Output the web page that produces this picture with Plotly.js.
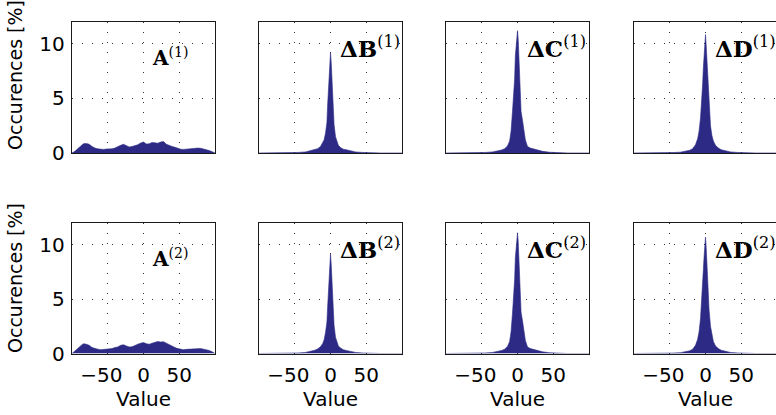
<!DOCTYPE html>
<html>
<head>
<meta charset="utf-8">
<script src="https://cdn.plot.ly/plotly-3.0.1.min.js"></script>
<style>html,body{margin:0;padding:0;overflow:hidden;background:#fff;}#plot{width:800px;height:415px;}</style>
</head>
<body>
<div id="plot"></div>
<script>
// ---- data ----
const xA = [-100,-96,-92,-88,-84,-80,-76,-72,-68,-64,-60,-56,-52,-48,-44,-40,-36,-32,-28,-24,-20,-16,-12,-8,-4,0,4,8,12,16,20,24,28,32,36,40,44,48,52,56,60,64,68,72,76,80,84,88,92,96,100];
const yA1 = [0,0.15,0.4,0.6,0.85,0.88,0.8,0.6,0.45,0.38,0.35,0.33,0.36,0.34,0.38,0.45,0.6,0.7,0.8,0.68,0.55,0.6,0.68,0.75,0.92,1.0,0.82,0.85,0.97,0.9,0.9,1.0,1.05,0.8,0.68,0.6,0.52,0.42,0.35,0.33,0.36,0.4,0.38,0.4,0.45,0.43,0.37,0.3,0.22,0.12,0];
const yA2 = [0,0.2,0.45,0.7,0.9,0.85,0.75,0.55,0.45,0.4,0.35,0.38,0.4,0.42,0.45,0.55,0.6,0.75,0.8,0.7,0.6,0.62,0.7,0.85,0.95,1.0,0.9,0.85,0.95,1.05,1.1,1.05,1.08,0.95,0.8,0.65,0.55,0.45,0.4,0.35,0.38,0.4,0.42,0.45,0.42,0.45,0.4,0.35,0.28,0.15,0];

const xP = [-100,-70,-55,-45,-35,-28,-22,-18,-14,-11,-9,-7,-5,-4,-3,-2,-1,0,1,2,3,4,5,7,9,11,14,18,22,28,35,45,55,70,100];
const yB1 = [0,0,0.02,0.05,0.1,0.2,0.3,0.4,0.6,0.9,1.2,1.8,2.8,4.4,5.6,7.6,8.6,9.2,8.3,7.0,5.0,3.5,2.6,1.5,1.0,0.7,0.5,0.35,0.3,0.2,0.1,0.05,0.02,0,0];
const yC1 = [0,0,0.02,0.05,0.1,0.18,0.28,0.4,0.65,1.1,2.0,3.8,5.8,6.8,8.9,9.9,10.7,11.2,10.4,9.0,7.0,4.8,3.8,3.0,2.2,1.2,0.6,0.45,0.38,0.28,0.15,0.07,0.03,0,0];
const yD1 = [0,0,0.02,0.04,0.08,0.15,0.25,0.4,0.75,1.3,2.0,3.2,5.0,6.3,7.8,9.0,10.0,10.85,9.8,8.4,6.8,5.3,4.0,2.5,1.6,1.1,0.7,0.45,0.3,0.18,0.1,0.05,0.02,0,0];
const yB2 = [0,0,0.02,0.05,0.1,0.2,0.3,0.42,0.62,0.9,1.25,1.9,2.9,4.3,5.5,7.5,8.5,9.15,8.2,6.9,5.0,3.6,2.6,1.5,1.0,0.7,0.5,0.35,0.28,0.2,0.1,0.05,0.02,0,0];
const yC2 = [0,0,0.02,0.05,0.1,0.18,0.28,0.4,0.65,1.1,2.0,3.7,5.7,6.8,8.8,9.8,10.6,11.1,10.3,8.9,7.0,4.9,3.8,3.0,2.2,1.2,0.6,0.45,0.38,0.28,0.15,0.07,0.03,0,0];
const yD2 = [0,0,0.02,0.04,0.08,0.15,0.25,0.4,0.75,1.3,2.0,3.2,5.0,6.2,7.7,8.9,9.9,10.7,9.7,8.3,6.7,5.2,4.0,2.5,1.6,1.1,0.7,0.45,0.3,0.18,0.1,0.05,0.02,0,0];

const panelLabels = ['<b>A</b><sup>(1)</sup>','<b>ΔB</b><sup>(1)</sup>','<b>ΔC</b><sup>(1)</sup>','<b>ΔD</b><sup>(1)</sup>',
                     '<b>A</b><sup>(2)</sup>','<b>ΔB</b><sup>(2)</sup>','<b>ΔC</b><sup>(2)</sup>','<b>ΔD</b><sup>(2)</sup>'];
const xTickVals = [-50,0,50];
const xTickText = ['−50\u00a0\u00a0','0','50'];
const yTickVals = [0,5,10];
const yTitle = 'Occurences [%]';
const xTitle = 'Value';

// ---- layout ----
const W = 800, H = 415;
const colLeft = [72,259,446,634], colW = 143;
const rowTB = [[22,153],[223,353.5]];
const fill = '#2c2a85';
const sans = 'DejaVu Sans, Liberation Sans, sans-serif';
const series = [[xA,yA1],[xP,yB1],[xP,yC1],[xP,yD1],[xA,yA2],[xP,yB2],[xP,yC2],[xP,yD2]];

const traces = [];
const layout = {
  width: W, height: H,
  margin: {l:0,r:0,t:0,b:0},
  paper_bgcolor:'#fff', plot_bgcolor:'#fff',
  showlegend:false,
  font:{family:sans, size:20, color:'#000'},
  annotations: []
};

series.forEach((s,i)=>{
  const r = Math.floor(i/4), c = i%4, k = i+1;
  const xa = 'x'+(k>1?k:''), ya = 'y'+(k>1?k:'');
  traces.push({x:s[0], y:s[1], xaxis:xa, yaxis:ya, type:'scatter', mode:'lines',
    fill:'tozeroy', fillcolor:fill, line:{color:fill, width:0.6}, hoverinfo:'skip'});
  const axCommon = {showline:true, mirror:true, linecolor:'#1a1a1a', linewidth:1.2,
    showgrid:true, gridcolor:'#333', griddash:'1px,9px', gridwidth:1, zeroline:false, ticks:'', fixedrange:true};
  layout['xaxis'+(k>1?k:'')] = Object.assign({}, axCommon, {
    domain:[colLeft[c]/W,(colLeft[c]+colW)/W], range:[-100,100], anchor:ya,
    tickmode:'array', tickvals:xTickVals, ticktext:xTickText, tickangle:0,
    showticklabels: r===1, ticklabelstandoff: 3,
    tickfont:{family:sans, size:20},
    title: r===1 ? {text:xTitle, font:{family:sans, size:20}, standoff:6} : undefined
  });
  layout['yaxis'+(k>1?k:'')] = Object.assign({}, axCommon, {
    domain:[1-rowTB[r][1]/H, 1-rowTB[r][0]/H], range:[0,12], anchor:xa,
    tickvals:yTickVals, showticklabels: c===0, ticklabelstandoff: 2,
    tickfont:{family:sans, size:20}
  });
  const isA = (c===0);
  layout.annotations.push({xref:xa, yref:ya, x: isA?8.6:10.5, y: isA?8.8:9.7,
    xanchor:'left', yanchor:'middle', showarrow:false, text:panelLabels[i],
    font:{family:'DejaVu Serif, serif', size: isA?20:23, color:'#000'}});
});
// y-axis titles (one per row)
[75,278].forEach(cy=>{
  layout.annotations.push({xref:'paper', yref:'paper', x:15/W, y:1-cy/H, xanchor:'center', yanchor:'middle',
    textangle:-90, showarrow:false, text:yTitle, font:{family:sans, size:19, color:'#000'}});
});

Plotly.newPlot('plot', traces, layout, {staticPlot:true, displayModeBar:false});
</script>
</body>
</html>
